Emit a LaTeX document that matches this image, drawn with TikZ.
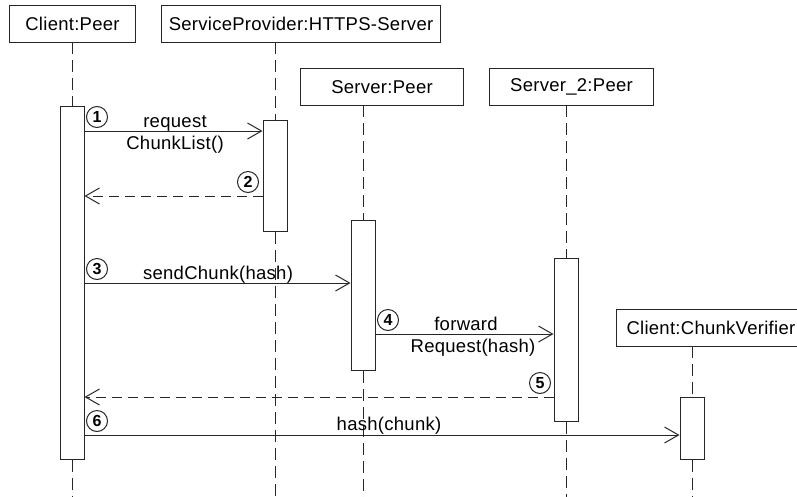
\documentclass[tikz,border=0pt]{standalone}
\usepackage{fontspec}
\setmainfont[LetterSpace=1.5]{Liberation Sans}
\usetikzlibrary{arrows.meta,calc}
\begin{document}
\begin{tikzpicture}[x=1pt,y=-1pt,
  font=\fontsize{18.5}{21}\selectfont,
  line width=1pt, draw=black!85,
  head/.style={draw=black!85, fill=white, minimum height=37pt, inner sep=0pt, anchor=north west},
  actbox/.style={draw=black!85, fill=white, minimum width=24pt, inner sep=0pt},
  life/.style={draw=black!85, dash pattern=on 12pt off 6pt},
  msg/.style={draw=black!85, -{Straight Barb[length=14pt,width=16pt]}},
  reply/.style={msg, dash pattern=on 10pt off 6pt},
  lbl/.style={inner sep=0pt, anchor=base},
  num/.style={circle, draw=black!85, line width=1pt, minimum size=21pt, inner sep=0pt, font=\fontsize{16}{16}\selectfont\bfseries}
]
\useasboundingbox (0,0) rectangle (797,496);
\clip (0,0) rectangle (797,496);

% heads
\node[head, minimum width=126pt] (cp) at (9,5) {Client:Peer};
\node[head, minimum width=279pt] (sp) at (161,5) {ServiceProvider:HTTPS-Server};
\node[head, minimum width=163pt] (sv) at (300,68) {Server:Peer};
\node[head, minimum width=164pt] (s2) at (489,68) {Server\_2:Peer};
\node[head, minimum width=200pt, text width=180pt, align=left] (cv) at (616,309) {Client:ChunkVerifier};

% lifeline anchors on heads
\coordinate (cpb) at (72,42);
\coordinate (spb) at (275,42);
\coordinate (svb) at (363,105);
\coordinate (s2b) at (566,105);
\coordinate (cvb) at (692,346);
\coordinate (bottom) at (0,500);

% activations
\node[actbox, minimum height=353pt] (ca) at (72,282.5) {};
\node[actbox, minimum height=111pt] (sa) at (275,175.5) {};
\node[actbox, minimum height=150pt] (va) at (363,295) {};
\node[actbox, minimum height=163pt] (s2a) at (566,339.5) {};
\node[actbox, minimum height=62pt] (cva) at (692,428) {};

% lifelines
\draw[life] (cpb) -- (ca.north);
\draw[life] (ca.south) -- (ca.south |- bottom);
\draw[life] (spb) -- (sa.north);
\draw[life] (sa.south) -- (sa.south |- bottom);
\draw[life] (svb) -- (va.north);
\draw[life] (va.south) -- (va.south |- bottom);
\draw[life] (s2b) -- (s2a.north);
\draw[life] (s2a.south) -- (s2a.south |- bottom);
\draw[life] (cvb) -- (cva.north);
\draw[life] (cva.south) -- (cva.south |- bottom);

% message levels
\coordinate (y1) at (0,131);
\coordinate (y2) at (0,196);
\coordinate (y3) at (0,283);
\coordinate (y4) at (0,334);
\coordinate (y5) at (0,397);
\coordinate (y6) at (0,435);

\draw[msg] (ca.east |- y1) -- (sa.west |- y1);
\draw[reply] (sa.west |- y2) -- (ca.east |- y2);
\draw[msg] (ca.east |- y3) -- (va.west |- y3);
\draw[msg] (va.east |- y4) -- (s2a.west |- y4);
\draw[reply] (s2a.west |- y5) -- (ca.east |- y5);
\draw[msg] (ca.east |- y6) -- (cva.west |- y6);

% labels
\node[lbl] (l1a) at (175,127) {request};
\node[lbl] (l1b) at (175,149) {ChunkList()};
\node[lbl] (l3) at (218,279) {sendChunk(hash)};
\node[lbl] (l4a) at (466,330) {forward};
\node[lbl] (l4b) at (473,352) {Request(hash)};
\node[lbl] (l6) at (389,430) {hash(chunk)};

% numbers
\node[num] (n1) at (97,117) {1};
\node[num] (n2) at (248,182) {2};
\node[num] (n3) at (97,269) {3};
\node[num] (n4) at (388,320) {4};
\node[num] (n5) at (540,383) {5};
\node[num] (n6) at (97,421) {6};
\end{tikzpicture}
\end{document}
